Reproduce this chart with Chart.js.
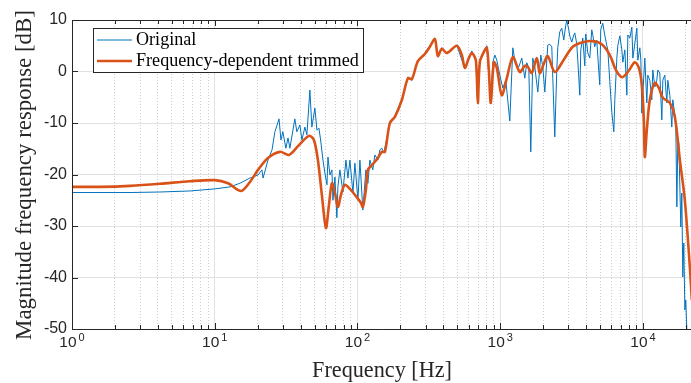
<!DOCTYPE html>
<html><head><meta charset="utf-8">
<script src="https://cdn.jsdelivr.net/npm/chart.js@4.4.0/dist/chart.umd.min.js"></script>
<style>html,body{margin:0;padding:0;background:#fff;overflow:hidden;width:691px;height:383px}canvas{display:block}</style>
</head><body>
<canvas id="c" width="694" height="383" style="width:694px;height:383px"></canvas>
<script>
const seriesNames = ['Original', 'Frequency-dependent trimmed'];
const xTitle = 'Frequency [Hz]';
const yTitle = 'Magnitude frequency response [dB]';
const yTickValues = [-50, -40, -30, -20, -10, 0, 10];
const xDecadeExponents = [0, 1, 2, 3, 4];
const xRange = [1, 22050];

const freqOrig = [1,2.55,4.13,6.7,10,12.8,15,17.6,20.1,21.4,21.8,23.6,25.2,26.4,28.2,29.1,30,31.5,32.6,33.6,35.3,36.4,37.6,39.5,40.8,42.8,44.2,46.4,47.9,50.3,52,53.7,55.4,57.3,59.1,61.1,62.1,64.1,66.2,67.3,69.5,71.7,72.9,75.3,79,83,85.7,88.5,92.9,95.9,100.7,104,109,114.5,118.3,122.1,128,132.4,139,143.5,148,153,168.6,182.8,204.7,225.4,240.4,264.9,296.5,321.4,348.5,365.6,390,422.7,496.7,564.9,632.4,674.5,696.6,719.4,805.6,859,887.8,916.6,946,993,1042,1094,1167,1225,1265,1306,1349,1416,1486,1535,1585,1637,1691,1746,1833,1924,1987,2052,2153,2224,2297,2334,2411,2490,2530,2613,2699,2787,2879,2926,3022,3071,3172,3276,3330,3438,3494,3608,3667,3787,3911,3975,4104,4239,4378,4450,4592,4743,4820,4978,5059,5225,5396,5573,5671,5858,6050,6248,6350,6561,6668,6887,7111,7227,7464,7709,7834,8091,8356,8492,8771,9058,9205,9507,9662,9819,9978,10300,10640,10810,11170,11530,11720,12110,12500,12700,13120,13550,13770,14220,14690,14930,15420,15920,16180,16720,16990,17270,17550,17830,18410,18710,19010,19320,19650,19950,20280,21300];
const dbOrig = [-23.5,-23.5,-23.4,-23.2,-22.8,-22.4,-21.7,-20.7,-20.1,-19.1,-20.7,-17.2,-15.2,-11.7,-9.2,-13.3,-11.7,-14.9,-12.9,-14.9,-11.4,-9.2,-11.7,-10.4,-13.3,-10.8,-12.3,-3.6,-10.8,-7.1,-11.4,-11.0,-13.7,-17.2,-19.7,-22.0,-16.6,-20.1,-19.1,-25.0,-20.5,-28.4,-22.4,-19.1,-23.4,-17.2,-20.7,-17.2,-23.6,-17.8,-25.0,-17.2,-26.9,-19.1,-21.7,-17.2,-19.1,-16.2,-17.2,-15.2,-14.9,-15.8,-10.2,-8.6,-5.3,-1.1,-1.7,2.2,3.6,5.0,6.5,2.8,4.6,3.4,5.1,0.5,4.0,2.0,-6.3,2.2,5.0,-6.3,1.8,3.2,2.2,-0.7,-3.2,-1.7,-9.6,4.6,2.2,1.3,0.9,2.6,-1.3,1.7,0.7,-15.6,2.6,0.9,-4.0,3.2,0.9,-4.0,5.1,5.3,4.8,-1.1,-12.7,0.3,4.6,7.7,8.4,6.1,9.0,10.0,8.1,6.9,5.7,7.1,7.5,5.3,2.2,-4.6,4.2,6.5,1.1,7.3,3.6,2.6,8.1,7.1,4.8,6.1,3.2,-2.6,8.1,9.4,7.1,5.1,4.2,-2.0,-7.9,-11.7,-5.5,2.6,5.1,6.9,4.2,1.8,4.2,-4.6,7.1,6.5,8.6,2.6,5.5,8.4,2.2,4.6,2.2,-8.1,-4.2,2.6,-6.1,-0.7,-1.7,-5.5,0.3,-3.0,-1.7,0.3,-0.3,-9.4,-1.7,-0.7,-6.1,-1.7,-4.6,-10.8,-5.5,-8.4,-10.8,-26.3,-13.3,-13.9,-30.2,-23.6,-39.9,-33.3,-46.3,-44.4,-50,-51];

const freqTrim = [1,1.57,2.55,4.13,6.7,10,12.4,15.3,17.6,20.1,23.6,28.6,33.1,38.3,45.7,49.5,52.8,56.3,60.1,63.1,66.2,69.5,72.9,76.5,81.6,88.5,97.5,105.6,109,114.5,118.3,128,139,148,155.6,168.6,182.8,204.7,225.4,240.4,264.9,296.5,321.4,348.5,365.6,390,422.7,496.7,538.3,564.9,602.6,632.4,674.5,696.6,719.4,767.9,805.6,831.8,859,902,946,1025,1112,1225,1371,1486,1560,1664,1804,1893,2019,2153,2411,2800,3222,3787,4450,5145,5858,6454,7111,7834,8771,9355,9819,10140,10300,10640,11170,12110,12910,13770,15420,16720,18130,19650,21300,22000];
const dbTrim = [-22.4,-22.4,-22.2,-21.8,-21.3,-21.1,-21.7,-23.2,-21.5,-19.1,-16.8,-15.6,-16.2,-14.5,-12.5,-13.3,-17.2,-24.0,-30.4,-25.9,-21.7,-23.6,-26.3,-24.0,-22.0,-22.8,-24.2,-25.5,-26.3,-23.0,-19.1,-18.0,-16.8,-15.6,-15.6,-10.0,-8.8,-5.5,-1.3,-1.5,2.0,3.4,4.8,6.3,3.0,4.4,3.6,5.0,3.2,0.7,2.6,3.6,2.2,-6.1,1.8,3.8,4.6,0.3,-6.1,1.8,0.7,-4.6,-1.3,2.8,-0.1,1.1,0.9,-0.3,2.6,-0.3,1.5,3.0,-0.1,2.4,4.8,5.7,5.9,5.3,3.2,0.3,-1.1,-0.1,1.8,0.7,-2.6,-9.4,-16.6,-11.4,-5.5,-2.2,-3.2,-5.1,-6.1,-8.8,-17.2,-25.0,-38.0,-44.4];

const COL_ORIG = '#0072BD', COL_TRIM = '#D95319', AXIS = '#262626';
const GRID_MAJOR = '#e1e1e1', GRID_MINOR = '#cfcfcf';

function toPts(fx, fy) { const n = Math.min(fx.length, fy.length); const r = []; for (let i = 0; i < n; i++) r.push({x: fx[i], y: fy[i]}); return r; }
function isDecade(v) { const l = Math.log10(v); return Math.abs(l - Math.round(l)) < 1e-9; }
const gridValues = [];
xDecadeExponents.forEach(k => { for (let m = 1; m <= 9; m++) { const v = m * Math.pow(10, k); if (v <= xRange[1]) gridValues.push(v); } });

function fitFont(ctx, text, target, family) {
  ctx.font = '20px ' + family;
  const w = ctx.measureText(text).width;
  return 20 * target / w;
}

const deco = {
  id: 'deco',
  afterDraw(chart) {
    const {ctx, chartArea: a, scales: {x, y}} = chart;
    ctx.save();
    ctx.strokeStyle = AXIS; ctx.lineWidth = 1;
    ctx.beginPath();
    ctx.moveTo(a.left + 0.5, a.top); ctx.lineTo(a.left + 0.5, a.bottom + 0.5); ctx.lineTo(a.right, a.bottom + 0.5);
    ctx.moveTo(a.left, a.top + 0.5); ctx.lineTo(a.right, a.top + 0.5);
    ctx.moveTo(a.right - 0.5, a.top); ctx.lineTo(a.right - 0.5, a.bottom);
    gridValues.forEach(v => {
      const px = Math.round(x.getPixelForValue(v)) + 0.5;
      const len = isDecade(v) ? 6 : 4;
      ctx.moveTo(px, a.bottom); ctx.lineTo(px, a.bottom - len);
      ctx.moveTo(px, a.top); ctx.lineTo(px, a.top + len);
    });
    yTickValues.forEach(v => {
      const py = Math.round(y.getPixelForValue(v)) + 0.5;
      ctx.moveTo(a.left, py); ctx.lineTo(a.left + 6, py);
    });
    ctx.stroke();

    ctx.fillStyle = AXIS; ctx.textBaseline = 'alphabetic'; ctx.textAlign = 'left';
    xDecadeExponents.forEach(k => {
      const cx = x.getPixelForValue(Math.pow(10, k));
      ctx.font = '15.5px "Liberation Sans"';
      const wb = ctx.measureText('10').width;
      ctx.font = '11px "Liberation Sans"';
      const we = ctx.measureText(String(k)).width;
      const x0 = cx - (wb + we + 2) / 2;
      ctx.font = '15.5px "Liberation Sans"';
      ctx.fillText('10', x0, a.bottom + 18);
      ctx.font = '11px "Liberation Sans"';
      ctx.fillText(String(k), x0 + wb + 2, a.bottom + 12);
    });

    const serif = '"Liberation Serif"';
    ctx.fillStyle = AXIS; ctx.textAlign = 'center';
    let fs = fitFont(ctx, xTitle, 140, serif);
    ctx.font = fs.toFixed(2) + 'px ' + serif;
    ctx.fillText(xTitle, (a.left + 691) / 2 + 0.5, 377);
    fs = fitFont(ctx, yTitle, 330, serif);
    ctx.save();
    ctx.translate(31, (a.top + a.bottom) / 2 + 0.5);
    ctx.rotate(-Math.PI / 2);
    ctx.font = fs.toFixed(2) + 'px ' + serif;
    ctx.fillText(yTitle, 0, 0);
    ctx.restore();

    const bx = 93.5, by = 28.5, bw = 270, bh = 44;
    ctx.fillStyle = '#fff'; ctx.fillRect(bx, by, bw, bh);
    ctx.strokeStyle = AXIS; ctx.lineWidth = 1; ctx.strokeRect(bx, by, bw, bh);
    const rows = [{y: 40, c: COL_ORIG, w: 1}, {y: 61, c: COL_TRIM, w: 2.6}];
    const lfs = fitFont(ctx, seriesNames[1], 223, serif);
    rows.forEach((r, i) => {
      ctx.strokeStyle = r.c; ctx.lineWidth = r.w;
      ctx.beginPath(); ctx.moveTo(97, r.y); ctx.lineTo(132, r.y); ctx.stroke();
      ctx.fillStyle = '#000'; ctx.textAlign = 'left'; ctx.textBaseline = 'alphabetic';
      ctx.font = lfs.toFixed(2) + 'px ' + serif;
      ctx.fillText(seriesNames[i], 136, r.y + 5);
    });
    ctx.restore();
  }
};

new Chart(document.getElementById('c'), {
  type: 'line',
  data: {
    datasets: [
      {label: seriesNames[0], data: toPts(freqOrig, dbOrig), borderColor: COL_ORIG, borderWidth: 1, pointRadius: 0, tension: 0, order: 2},
      {label: seriesNames[1], data: toPts(freqTrim, dbTrim), borderColor: COL_TRIM, borderWidth: 2.6, pointRadius: 0, tension: 0.3, borderJoinStyle: 'round', order: 1}
    ]
  },
  options: {
    responsive: false, animation: false, events: [],
    layout: {padding: {left: 0, right: 2, top: 20, bottom: 0}},
    plugins: {legend: {display: false}, tooltip: {enabled: false}},
    scales: {
      x: {
        type: 'logarithmic', min: xRange[0], max: xRange[1],
        afterBuildTicks(s) { s.ticks = gridValues.map(v => ({value: v, major: isDecade(v)})); },
        afterFit(s) { s.height = 54; },
        ticks: {display: false},
        grid: {drawTicks: false, lineWidth: 1, color: c => (c.tick && isDecade(c.tick.value)) ? GRID_MAJOR : GRID_MINOR},
        border: {display: false, dash: c => (c.tick && isDecade(c.tick.value)) ? [] : [1, 2]}
      },
      y: {
        min: -50, max: 10,
        afterBuildTicks(s) { s.ticks = yTickValues.map(v => ({value: v})); },
        afterFit(s) { s.width = 72; },
        ticks: {font: {family: '"Liberation Sans"', size: 16}, color: AXIS, padding: 5},
        grid: {drawTicks: false, lineWidth: 1, color: GRID_MAJOR},
        border: {display: false}
      }
    }
  },
  plugins: [deco]
});
</script>
</body></html>
